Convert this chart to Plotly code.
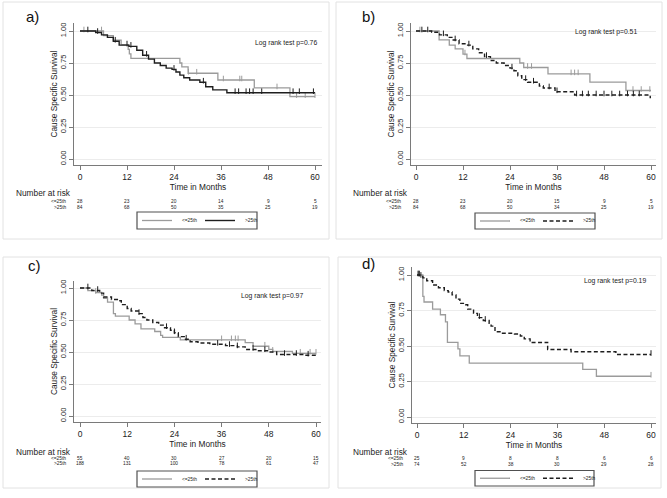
import plotly.graph_objects as go

W, H = 667, 498
FONT = "Arial, Liberation Sans, sans-serif"

tick_months = [0, 12, 24, 36, 48, 60]
tick_surv = [0, 0.25, 0.5, 0.75, 1.0]
tick_surv_text = ["0.00", "0.25", "0.50", "0.75", "1.00"]
group_names = ["<=25th", ">25th"]
x_title = "Time in Months"
y_title = "Cause Specific Survival"

# ---------------- panel a ----------------
a_low_time = [0, 6, 8.5, 10.5, 12.3, 12.6, 13, 25.5, 26, 27.6, 35.2, 44.5, 53.6, 60]
a_low_surv = [1.0, 0.964, 0.929, 0.893, 0.857, 0.821, 0.786, 0.75, 0.72, 0.67, 0.617, 0.555, 0.487, 0.487]
a_low_cens = [1, 5.5, 27.7, 29.8, 36.6, 40.8, 41.3, 50.3, 55.3, 57.5, 60]
a_high_time = [0, 4, 5.5, 7, 8.5, 10, 12.5, 14.5, 16, 17.5, 19, 20.5, 22, 23.5, 24.5, 25.5, 26.5, 28,
               30.6, 32.1, 33.9, 37.5, 60]
a_high_surv = [1.0, 0.988, 0.97, 0.95, 0.92, 0.89, 0.88, 0.85, 0.81, 0.78, 0.75, 0.73, 0.71, 0.70, 0.68,
               0.655, 0.635, 0.617, 0.60, 0.565, 0.54, 0.518, 0.518]
a_high_cens = [2, 4.5, 9, 12, 13, 17, 24, 31.5, 39.6, 40.5, 42.4, 43.3, 44.2, 46.4, 54.4, 56, 59.6]
a_risk_low = [28, 23, 20, 14, 9, 5]
a_risk_high = [84, 68, 50, 35, 25, 19]
a_p = "0.76"

# ---------------- panel b ----------------
b_low_time = [0, 5.9, 8.5, 10, 12, 13, 26.5, 27.5, 33.7, 44.4, 53.6, 60]
b_low_surv = [1.0, 0.93, 0.89, 0.86, 0.82, 0.785, 0.75, 0.715, 0.665, 0.60, 0.535, 0.535]
b_low_cens = [1, 12.5, 28.5, 29.5, 39.6, 40.5, 41.4, 55.4, 57.5, 59.7]
b_high_time = [0, 4, 6, 8, 9.5, 11, 12.5, 14.5, 16, 17.5, 19, 20.5, 22.5, 24, 25, 26, 27, 28.5, 31.5,
               32.5, 35.5, 40.5, 59.8, 60]
b_high_surv = [1.0, 0.99, 0.97, 0.95, 0.93, 0.90, 0.89, 0.86, 0.83, 0.80, 0.77, 0.75, 0.73, 0.71, 0.69,
               0.65, 0.62, 0.60, 0.57, 0.555, 0.525, 0.50, 0.48, 0.48]
b_high_cens = [1.5, 3, 7, 10, 13.5, 18, 24.5, 28, 30, 34, 36, 41, 42.5, 44, 46, 48, 50, 52, 54, 55.5, 57]
b_risk_low = [28, 23, 20, 15, 9, 5]
b_risk_high = [84, 68, 50, 34, 25, 19]
b_p = "0.51"

# ---------------- panel c ----------------
c_low_time = [0, 2, 4, 5.5, 6, 7, 8.5, 9, 12.5, 14, 15.5, 19, 20.5, 21, 25.5, 42, 44, 48, 49, 54, 60]
c_low_surv = [1.0, 0.98, 0.965, 0.945, 0.92, 0.89, 0.80, 0.78, 0.75, 0.72, 0.68, 0.66, 0.63, 0.615,
              0.595, 0.573, 0.545, 0.52, 0.505, 0.49, 0.49]
c_low_cens = [4, 36, 38.5, 39.5, 40.2, 47, 49, 56, 58.5, 60]
c_high_time = [0, 3, 5, 6, 8, 9.5, 10.5, 12, 13, 15, 16, 17, 18.5, 20, 21.5, 23, 24, 25, 26.5, 28, 30,
               33, 37, 40, 42, 45, 48, 50, 57, 60]
c_high_surv = [1.0, 0.98, 0.96, 0.93, 0.91, 0.90, 0.87, 0.84, 0.82, 0.80, 0.77, 0.75, 0.73, 0.71, 0.69,
               0.67, 0.65, 0.62, 0.60, 0.58, 0.57, 0.56, 0.55, 0.54, 0.52, 0.51, 0.50, 0.48, 0.475, 0.47]
c_high_cens = [2, 4.5, 15, 22, 24, 27, 35, 38, 40, 44, 47, 52, 55, 58]
c_risk_low = [55, 40, 30, 27, 20, 15]
c_risk_high = [188, 131, 100, 78, 61, 47]
c_p = "0.97"

# ---------------- panel d ----------------
d_low_time = [0, 1.5, 1.8, 4, 6, 7.3, 7.8, 10.5, 11, 13.4, 42.5, 46, 60]
d_low_surv = [1.0, 0.85, 0.81, 0.76, 0.72, 0.67, 0.525, 0.48, 0.43, 0.38, 0.335, 0.287, 0.287]
d_low_cens = [0.3, 60]
d_high_time = [0, 0.7, 1.5, 2.5, 4, 5.5, 7, 8, 9, 10, 11, 12.5, 13, 14.5, 15.5, 17, 18.5, 19, 20, 21.5,
               25, 26.5, 27.5, 29, 33.5, 39.5, 51, 60]
d_high_surv = [1.0, 0.99, 0.98, 0.96, 0.93, 0.91, 0.89, 0.88, 0.86, 0.83, 0.80, 0.79, 0.76, 0.73, 0.70,
               0.68, 0.66, 0.64, 0.60, 0.59, 0.585, 0.57, 0.55, 0.525, 0.475, 0.46, 0.44, 0.44]
d_high_cens = [0.3, 0.6, 1, 16, 17.5, 60]
d_risk_low = [25, 9, 8, 8, 6, 6]
d_risk_high = [74, 52, 38, 30, 29, 28]
d_p = "0.19"

# layout geometry (pixels in the 667x498 canvas)
panels = [
    dict(label="a)", low=(a_low_time, a_low_surv, a_low_cens), high=(a_high_time, a_high_surv, a_high_cens),
         risk=(a_risk_low, a_risk_high), p=a_p, dash="solid",
         x0=80, x60=315, left=74, right=322, y1=31, y0=159, top=23, bottom=165,
         card=(3, 2, 329, 239), lab=(24, 17), lr=(286, 43), nar=(14, 193), rows=(201, 207), rl=68,
         leg=(137, 212, 257, 229)),
    dict(label="b)", low=(b_low_time, b_low_surv, b_low_cens), high=(b_high_time, b_high_surv, b_high_cens),
         risk=(b_risk_low, b_risk_high), p=b_p, dash="4px,2.5px",
         x0=416, x60=651, left=411, right=656, y1=31, y0=159, top=23, bottom=165,
         card=(336, 2, 662, 239), lab=(360, 17), lr=(606, 32), nar=(351, 193), rows=(201, 207), rl=403,
         leg=(475, 213, 595, 229)),
    dict(label="c)", low=(c_low_time, c_low_surv, c_low_cens), high=(c_high_time, c_high_surv, c_high_cens),
         risk=(c_risk_low, c_risk_high), p=c_p, dash="4px,2.5px",
         x0=80, x60=316, left=74, right=321, y1=288, y0=416, top=281, bottom=422,
         card=(3, 257, 329, 488), lab=(26, 265), lr=(272, 296), nar=(14, 451.5), rows=(458, 463.5), rl=68,
         leg=(137, 471, 257, 487)),
    dict(label="d)", low=(d_low_time, d_low_surv, d_low_cens), high=(d_high_time, d_high_surv, d_high_cens),
         risk=(d_risk_low, d_risk_high), p=d_p, dash="4px,2.5px",
         x0=417, x60=651, left=412, right=656, y1=275, y0=417, top=267, bottom=423,
         card=(338, 257, 661, 488), lab=(360, 263), lr=(615, 281), nar=(351, 451.5), rows=(458.5, 464), rl=405,
         leg=(475, 470.5, 594, 486)),
]

GRAY = "#9b9b9b"
BLACK = "#1e1e1e"
AXC = "#7a7a7a"


def step_at(times, surv, t):
    v = surv[0]
    for ti, si in zip(times, surv):
        if ti <= t:
            v = si
        else:
            break
    return v


def px_x(px):
    return px / W


def px_y(px):
    return 1 - px / H


fig = go.Figure()
annotations = []
shapes = []
layout = {}

for i, p in enumerate(panels):
    n = "" if i == 0 else str(i + 1)
    xa, ya = "x" + n, "y" + n
    ppm = (p["x60"] - p["x0"]) / 60.0
    ppu = p["y0"] - p["y1"]
    xr = [(p["left"] - p["x0"]) / ppm, (p["right"] - p["x0"]) / ppm]
    yr = [(p["y0"] - p["bottom"]) / ppu, (p["y0"] - p["top"]) / ppu]
    tick_off = 1.5 / ppu

    # panel card
    x0c, y0c, x1c, y1c = p["card"]
    shapes.append(dict(type="rect", xref="paper", yref="paper", x0=px_x(x0c), x1=px_x(x1c),
                       y0=px_y(y1c), y1=px_y(y0c), line=dict(color="#e2e2e2", width=1),
                       fillcolor="white", layer="below"))

    styles = [(p["low"], GRAY, "solid", 1.3), (p["high"], BLACK, p["dash"], 1.4)]
    for g, (grp, color, dash, width) in enumerate(styles):
        t, s, c = grp
        fig.add_trace(go.Scatter(x=t, y=s, mode="lines", line=dict(shape="hv", color=color, width=width, dash=dash),
                                 name=group_names[g], xaxis=xa, yaxis=ya, showlegend=False, hoverinfo="skip"))
        fig.add_trace(go.Scatter(x=c, y=[step_at(t, s, ci) + tick_off for ci in c], mode="markers",
                                 marker=dict(symbol="line-ns", size=4, line=dict(color=color, width=1)),
                                 xaxis=xa, yaxis=ya, showlegend=False, hoverinfo="skip"))

    layout["xaxis" + n] = dict(domain=[px_x(p["left"]), px_x(p["right"])], range=xr, anchor=ya,
                               tickvals=tick_months, ticks="outside", ticklen=4, tickcolor=AXC,
                               showline=True, linecolor=AXC, linewidth=1, showgrid=False, zeroline=False,
                               tickfont=dict(size=8.5, family=FONT, color="#222"),
                               title=dict(text=x_title, font=dict(size=8.3, family=FONT, color="#222"), standoff=0))
    layout["yaxis" + n] = dict(domain=[px_y(p["bottom"]), px_y(p["top"])], range=yr, anchor=xa,
                               tickvals=tick_surv, ticktext=tick_surv_text, tickangle=-90,
                               ticks="outside", ticklen=4, tickcolor=AXC,
                               showline=True, linecolor=AXC, linewidth=1, showgrid=True,
                               gridcolor="#ececec", gridwidth=1, zeroline=False,
                               tickfont=dict(size=7.5, family=FONT, color="#222"),
                               title=dict(text=y_title, font=dict(size=8.3, family=FONT, color="#222"), standoff=0))

    # legend box (key samples + labels)
    lx0, ly0, lx1, ly1 = p["leg"]
    lyc = (ly0 + ly1) / 2
    shapes.append(dict(type="rect", xref="paper", yref="paper", x0=px_x(lx0), x1=px_x(lx1),
                       y0=px_y(ly1), y1=px_y(ly0), line=dict(color="#505050", width=1.2), fillcolor="white"))
    for g, (grp, color, dash, width) in enumerate(styles):
        sx = lx0 + 5 + 63 * g
        shapes.append(dict(type="line", xref="paper", yref="paper", x0=px_x(sx), x1=px_x(sx + 30),
                           y0=px_y(lyc), y1=px_y(lyc), line=dict(color=color, width=width, dash=dash)))
        annotations.append(dict(text=group_names[g], xref="paper", yref="paper", x=px_x(sx + 38), y=px_y(lyc),
                                xanchor="left", yanchor="middle", showarrow=False,
                                font=dict(size=4.8, family=FONT, color="#222")))

    # panel label and log rank text
    annotations.append(dict(text=p["label"], xref="paper", yref="paper", x=px_x(p["lab"][0]), y=px_y(p["lab"][1]),
                            xanchor="left", yanchor="middle", showarrow=False,
                            font=dict(size=15, family=FONT, color="#111")))
    annotations.append(dict(text="Log rank test p=" + p["p"], xref="paper", yref="paper",
                            x=px_x(p["lr"][0]), y=px_y(p["lr"][1]), xanchor="center", yanchor="middle",
                            showarrow=False, font=dict(size=6.8, family=FONT, color="#222")))
    # number at risk table
    annotations.append(dict(text="Number at risk", xref="paper", yref="paper", x=px_x(p["nar"][0]),
                            y=px_y(p["nar"][1]), xanchor="left", yanchor="middle", showarrow=False,
                            font=dict(size=8.3, family=FONT, color="#222")))
    for r, (row_y, counts) in enumerate(zip(p["rows"], p["risk"])):
        annotations.append(dict(text=group_names[r], xref="paper", yref="paper", x=px_x(p["rl"]),
                                y=px_y(row_y), xanchor="right", yanchor="middle", showarrow=False,
                                font=dict(size=4.8, family=FONT, color="#222")))
        for tm, cnt in zip(tick_months, counts):
            annotations.append(dict(text=str(cnt), xref=xa, yref="paper", x=tm, y=px_y(row_y),
                                    xanchor="center", yanchor="middle", showarrow=False,
                                    font=dict(size=4.8, family=FONT, color="#222")))

fig.update_layout(width=W, height=H, margin=dict(l=0, r=0, t=0, b=0), paper_bgcolor="white",
                  plot_bgcolor="white", showlegend=False, annotations=annotations, shapes=shapes, **layout)
fig.write_html("out.html", config={"displayModeBar": False},
               post_script="document.body.style.margin='0';document.body.style.overflow='hidden';")
